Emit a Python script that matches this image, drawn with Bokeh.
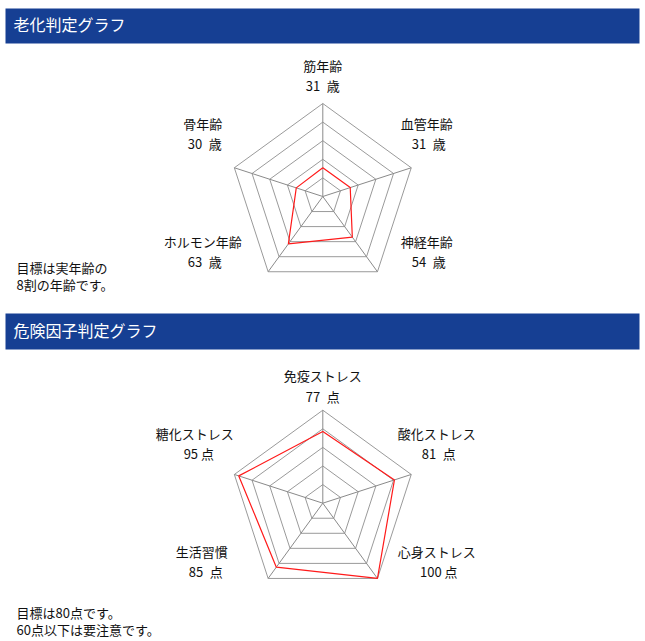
import math
from bokeh.plotting import figure
from bokeh.models import Range1d
from bokeh.core.properties import value
from bokeh.embed import file_html
from bokeh.resources import INLINE

# ---------------- data ----------------
aging_title = "老化判定グラフ"
aging_labels = ["筋年齢", "血管年齢", "神経年齢", "ホルモン年齢", "骨年齢"]
aging_values = [31, 31, 54, 63, 30]
aging_value_text = ["31\u2002歳", "31\u2002歳", "54\u2002歳", "63\u2002歳", "30\u2002歳"]
aging_notes = ["目標は実年齢の", "8割の年齢です。"]

risk_title = "危険因子判定グラフ"
risk_labels = ["免疫ストレス", "酸化ストレス", "心身ストレス", "生活習慣", "糖化ストレス"]
risk_values = [77, 81, 100, 85, 95]
risk_value_text = ["77\u2002点", "81\u2002点", "100 点", "85\u2002点", "95 点"]
risk_notes = ["目標は80点です。", "60点以下は要注意です。"]

scale_max = 100
ring_levels = [20, 40, 60, 80, 100]

# ---------------- layout ----------------
FONT = "Noto Sans CJK JP"
R = 93.0
TY = -2  # text vertical nudge

p = figure(width=645, height=641, output_backend="svg", toolbar_location=None,
           x_range=Range1d(0, 645), y_range=Range1d(641, 0),
           min_border=0, x_axis_location=None, y_axis_location=None)
p.grid.visible = False
p.outline_line_color = None
p.background_fill_color = "white"

def radar(cx, cy, labels, values, value_text, name_pos, val_pos):
    n = len(labels)
    ang = [2 * math.pi * i / n for i in range(n)]
    # rings
    for lv in ring_levels:
        r = R * lv / scale_max
        xs = [cx + r * math.sin(a) for a in ang]
        ys = [cy - r * math.cos(a) for a in ang]
        p.line(xs + [xs[0]], ys + [ys[0]], line_color="#9a9a9a", line_width=1)
    # spokes
    for a in ang:
        p.line([cx, cx + R * math.sin(a)], [cy, cy - R * math.cos(a)],
               line_color="#8a8a8a", line_width=1)
    # data polygon
    xs = [cx + R * v / scale_max * math.sin(a) for v, a in zip(values, ang)]
    ys = [cy - R * v / scale_max * math.cos(a) for v, a in zip(values, ang)]
    p.line(xs + [xs[0]], ys + [ys[0]], line_color="#ff1a1a", line_width=1.2)
    # labels
    p.text(x=[cx + dx for dx, dy in name_pos], y=[cy + dy + TY for dx, dy in name_pos],
           text=labels, text_font=value(FONT), text_font_size="13px",
           text_color="#111111", text_align="center", text_baseline="middle")
    p.text(x=[cx + dx for dx, dy in val_pos], y=[cy + dy + TY for dx, dy in val_pos],
           text=value_text, text_font=value(FONT), text_font_size="13px",
           text_color="#111111", text_align="center", text_baseline="middle")

def header(top, bottom, title):
    p.quad(left=5, right=639, top=top, bottom=bottom, fill_color="#163f93",
           line_color=None)
    p.text(x=[13], y=[(top + bottom) / 2 + TY], text=[title], text_font=value(FONT),
           text_font_size="16px", text_color="white", text_align="left",
           text_baseline="middle")

def notes(x, y0, lines, gap):
    p.text(x=[x] * len(lines), y=[y0 + TY + i * gap for i in range(len(lines))],
           text=lines, text_font=value(FONT), text_font_size="13px",
           text_color="#111111", text_align="left", text_baseline="middle")

header(8, 43, aging_title)
radar(322.3, 196.0, aging_labels, aging_values, aging_value_text,
      name_pos=[(0, -129), (104, -71), (104, 47), (-120, 47), (-120, -71)],
      val_pos=[(0, -109), (106, -51), (106, 67), (-118, 67), (-118, -51)])
notes(16, 269, aging_notes, 17)

header(313, 349, risk_title)
radar(322.3, 502.7, risk_labels, risk_values, risk_value_text,
      name_pos=[(0, -126), (114, -68), (114, 50), (-121, 50), (-128, -68)],
      val_pos=[(0, -105), (116, -48), (116, 70), (-117, 70), (-124, -48)])
notes(16, 614, risk_notes, 17)

open("out.html", "w").write(file_html(p, INLINE))
